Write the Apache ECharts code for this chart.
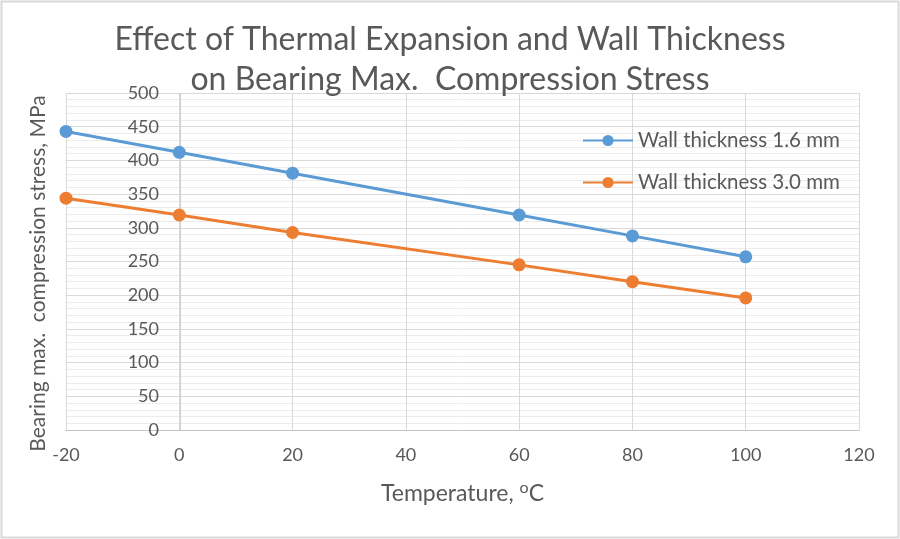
<!DOCTYPE html>
<html><head><meta charset="utf-8">
<script src="https://cdn.jsdelivr.net/npm/echarts@6/dist/echarts.min.js"></script>
<style>html,body{margin:0;padding:0;background:#fff}#c{width:900px;height:539px}</style>
</head><body><div id="c"></div>
<script>
const temperatures = [-20, 0, 20, 60, 80, 100];
const wall16 = [443, 412, 381, 319, 288, 257];
const wall30 = [344, 319, 293, 245, 220, 196];
const seriesNames = ['Wall thickness 1.6 mm', 'Wall thickness 3.0 mm'];
const xTicks = [-20, 0, 20, 40, 60, 80, 100, 120];
const yTicks = [0, 50, 100, 150, 200, 250, 300, 350, 400, 450, 500];

const font = 'Lato';
const gray = '#595959';
const chart = echarts.init(document.getElementById('c'), null, {renderer: 'canvas'});
chart.setOption({
  backgroundColor: '#fff',
  animation: false,
  textStyle: {fontFamily: font},
  title: {
    text: 'Effect of Thermal Expansion and Wall Thickness\non Bearing Max.  Compression Stress',
    left: 'center', top: 15,
    textStyle: {fontFamily: font, fontSize: 32, fontWeight: 'normal', color: gray, lineHeight: 40}
  },
  graphic: [{type: 'rect', shape: {x: 1.5, y: 1.5, width: 897, height: 536}, style: {fill: 'none', stroke: '#d9d9d9', lineWidth: 2}, silent: true}],
  legend: {
    orient: 'vertical', left: 577, top: 125, itemGap: 21, itemWidth: 50, itemHeight: 14,
    textStyle: {fontFamily: font, fontSize: 20.5, color: gray},
    data: seriesNames
  },
  grid: {left: 66, right: 41, top: 93, bottom: 109, containLabel: false, outerBoundsMode: 'none'},
  xAxis: {
    type: 'value', min: xTicks[0], max: xTicks[xTicks.length - 1], interval: 20,
    name: 'Temperature, {s|o}C', nameLocation: 'middle', nameGap: 50,
    nameTextStyle: {fontFamily: font, fontSize: 23, color: gray, rich: {s: {fontSize: 16, color: gray, fontFamily: font, padding: [0, 0, 12, 0]}}},
    axisLine: {show: true, onZero: false, lineStyle: {color: '#c4c4c4', width: 1}},
    axisTick: {show: false},
    axisLabel: {fontFamily: font, fontSize: 18, color: gray, margin: 16},
    splitLine: {show: true, lineStyle: {color: '#d9d9d9', width: 1}}
  },
  yAxis: {
    type: 'value', min: yTicks[0], max: yTicks[yTicks.length - 1], interval: 50,
    offset: -114,
    name: 'Bearing max.  compression stress, MPa', nameLocation: 'middle', nameGap: 131,
    nameMoveOverlap: false,
    nameTextStyle: {fontFamily: font, fontSize: 21, color: gray, padding: [0, 24, 0, 0]},
    axisLine: {show: true, onZero: false, lineStyle: {color: '#d0d0d0', width: 1}},
    axisTick: {show: false},
    axisLabel: {fontFamily: font, fontSize: 18, color: gray, margin: 21},
    splitLine: {show: true, lineStyle: {color: '#d9d9d9', width: 1}},
    minorTick: {show: false, splitNumber: 5},
    minorSplitLine: {show: true, lineStyle: {color: '#ececec', width: 1}}
  },
  series: [
    {name: seriesNames[0], type: 'line', data: temperatures.map((t, i) => [t, wall16[i]]),
     symbol: 'circle', symbolSize: 13, itemStyle: {color: '#5B9BD5'}, lineStyle: {color: '#5B9BD5', width: 3}},
    {name: seriesNames[1], type: 'line', data: temperatures.map((t, i) => [t, wall30[i]]),
     symbol: 'circle', symbolSize: 13, itemStyle: {color: '#ED7D31'}, lineStyle: {color: '#ED7D31', width: 3}}
  ]
});
</script></body></html>
